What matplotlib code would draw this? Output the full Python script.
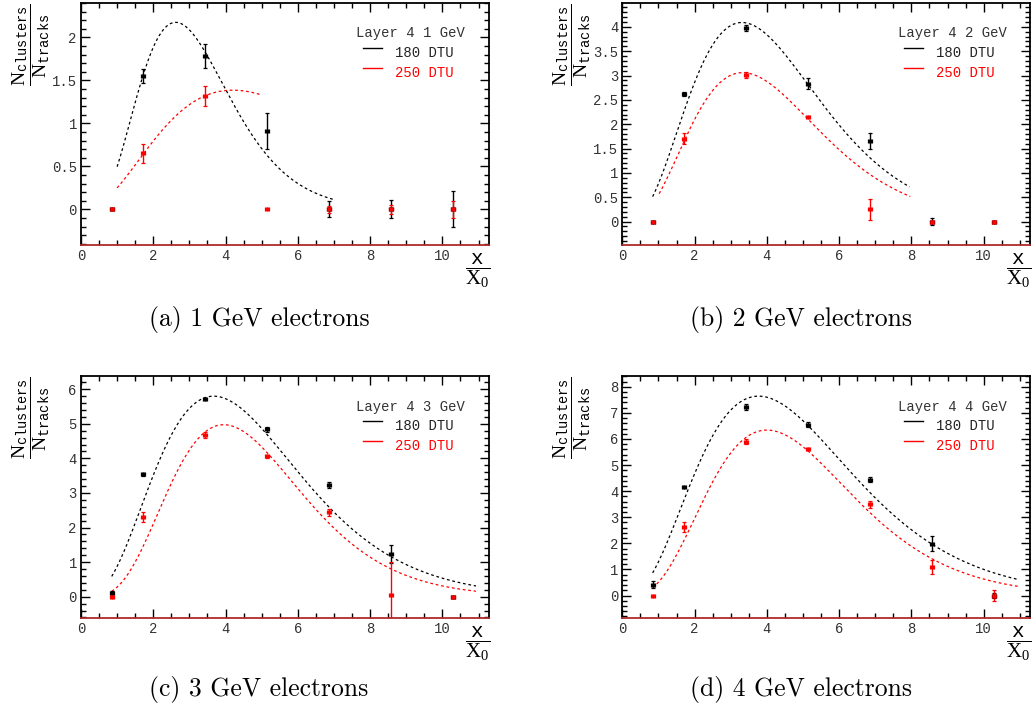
import numpy as np
import matplotlib
matplotlib.use("Agg")
import matplotlib.pyplot as plt
from matplotlib.ticker import MultipleLocator, FuncFormatter

plt.rcParams["mathtext.fontset"] = "custom"
plt.rcParams["mathtext.rm"] = "Liberation Serif"
plt.rcParams["mathtext.it"] = "Liberation Serif:italic"
plt.rcParams["mathtext.tt"] = "Liberation Mono"

MONO = "Liberation Mono"

# Depth of the layer in radiation lengths
depth = [0.857, 1.714, 3.429, 5.143, 6.857, 8.571, 10.286]
depth_err = 0.06

# 1 GeV electrons
n180_1gev = [0.0, 1.55, 1.78, 0.91, 0.0, 0.0, 0.0]
e180_1gev = [0.01, 0.085, 0.14, 0.21, 0.093, 0.105, 0.21]
n250_1gev = [0.0, 0.65, 1.32, 0.0, 0.0, 0.0, 0.0]
e250_1gev = [0.01, 0.11, 0.116, 0.0, 0.04, 0.05, 0.10]

# 2 GeV electrons
n180_2gev = [0.0, 2.62, 3.98, 2.83, 1.66, 0.0, 0.0]
e180_2gev = [0.02, 0.04, 0.06, 0.11, 0.17, 0.07, 0.02]
n250_2gev = [0.0, 1.70, 3.01, 2.14, 0.25, 0.0, 0.0]
e250_2gev = [0.02, 0.11, 0.07, 0.02, 0.22, 0.02, 0.02]

# 3 GeV electrons
n180_3gev = [0.12, 3.54, 5.72, 4.84, 3.23, 1.23, 0.0]
e180_3gev = [0.05, 0.04, 0.03, 0.08, 0.10, 0.26, 0.03]
n250_3gev = [0.0, 2.31, 4.67, 4.06, 2.44, 0.04, 0.0]
e250_3gev = [0.05, 0.15, 0.08, 0.05, 0.10, 0.95, 0.03]

# 4 GeV electrons
n180_4gev = [0.41, 4.16, 7.22, 6.54, 4.44, 1.98, 0.0]
e180_4gev = [0.13, 0.05, 0.10, 0.10, 0.10, 0.29, 0.10]
n250_4gev = [0.0, 2.62, 5.90, 5.62, 3.50, 1.09, 0.0]
e250_4gev = [0.02, 0.19, 0.10, 0.05, 0.13, 0.26, 0.22]

# Longitudinal shower fits: (t_max, peak value, shape k, t_start, t_end)
fit180_1gev = (2.62, 2.175, 4.29, 1.00, 7.00)
fit250_1gev = (4.20, 1.386, 2.55, 1.00, 5.00)
fit180_2gev = (3.31, 4.09, 3.32, 0.84, 7.95)
fit250_2gev = (3.33, 3.06, 3.42, 1.02, 7.97)
fit180_3gev = (3.67, 5.80, 3.30, 0.85, 10.93)
fit250_3gev = (3.95, 4.975, 4.60, 0.85, 10.93)
fit180_4gev = (3.77, 7.64, 3.00, 0.84, 10.95)
fit250_4gev = (4.00, 6.34, 3.95, 0.84, 10.95)

energies = ["1 GeV", "2 GeV", "3 GeV", "4 GeV"]
captions = ["(a) 1 GeV electrons", "(b) 2 GeV electrons",
            "(c) 3 GeV electrons", "(d) 4 GeV electrons"]
thresholds = ["180 DTU", "250 DTU"]

panels = [
    (n180_1gev, e180_1gev, n250_1gev, e250_1gev, fit180_1gev, fit250_1gev),
    (n180_2gev, e180_2gev, n250_2gev, e250_2gev, fit180_2gev, fit250_2gev),
    (n180_3gev, e180_3gev, n250_3gev, e250_3gev, fit180_3gev, fit250_3gev),
    (n180_4gev, e180_4gev, n250_4gev, e250_4gev, fit180_4gev, fit250_4gev),
]
ylims = [(-0.415, 2.40), (-0.48, 4.49), (-0.625, 6.375), (-0.87, 8.40)]
ysteps = [(0.5, 0.1), (0.5, 0.1), (1.0, 0.2), (1.0, 0.2)]


def shower(t, tmax, peak, k):
    r = t / tmax
    return peak * r ** k * np.exp(-k * (r - 1.0))


W, H = 1034, 711
fig = plt.figure(figsize=(W / 100, H / 100), dpi=100)

ax_w = 408 / W
ax_h = 242 / H
lefts = [81 / W, 622.3 / W, 81 / W, 622.3 / W]
tops = [3, 3, 376.3, 376.3]
cap_xy = [(259, 319.5), (801, 319.5), (259, 689.5), (801, 689.5)]

for i, (n180, e180, n250, e250, f180, f250) in enumerate(panels):
    top = tops[i]
    ax = fig.add_axes([lefts[i], 1 - (top + 242) / H, ax_w, ax_h])
    ax.set_xlim(0, 11.29)
    ax.set_ylim(*ylims[i])

    for fit, col in ((f180, "black"), (f250, "red")):
        tmax, peak, k, t0, t1 = fit
        t = np.linspace(t0, t1, 300)
        ax.plot(t, shower(t, tmax, peak, k), color=col, lw=0.9,
                ls=(0, (2.2, 2.2)), zorder=2)

    for y, e, col in ((n180, e180, "black"), (n250, e250, "red")):
        ax.errorbar(depth, y, yerr=e, xerr=depth_err, fmt="o", ms=2.2,
                    color=col, ecolor=col, elinewidth=1.0, capsize=1.2,
                    capthick=0.9, zorder=3, clip_on=True)

    # axis styling
    major, minor = ysteps[i]
    ax.yaxis.set_major_locator(MultipleLocator(major))
    ax.yaxis.set_minor_locator(MultipleLocator(minor))
    ax.xaxis.set_major_locator(MultipleLocator(2))
    ax.xaxis.set_minor_locator(MultipleLocator(0.5))
    fmt = FuncFormatter(lambda v, p: "%g" % (round(v, 6) + 0.0))
    ax.xaxis.set_major_formatter(fmt)
    ax.yaxis.set_major_formatter(fmt)
    ax.tick_params(which="both", direction="in", top=True, right=True,
                   width=1.0, colors="black")
    ax.tick_params(which="major", length=6.5, pad=3, labelsize=10,
                   labelcolor="#333333")
    ax.tick_params(which="minor", length=3.4)
    for lab in ax.get_xticklabels() + ax.get_yticklabels():
        lab.set_family(MONO)
    for s in ax.spines.values():
        s.set_linewidth(1.3)
    ax.spines["bottom"].set_color("#b02a2a")

    # legend block
    ax.text(0.675, 0.875, "Layer 4 " + energies[i], transform=ax.transAxes,
            family=MONO, fontsize=10, color="#333333", va="center", ha="left")
    for j, (lab, col) in enumerate(zip(thresholds, ["#222222", "red"])):
        yl = 0.815 - j * 0.084
        ax.plot([0.69, 0.737], [yl, yl], transform=ax.transAxes,
                color="black" if j == 0 else "red", lw=1.0)
        ax.text(0.77, yl - 0.02, lab, transform=ax.transAxes, family=MONO,
                fontsize=10, color=col, va="center", ha="left")

    # axis titles
    ax_left_px = lefts[i] * W
    fig.text((ax_left_px - 50) / W, 1 - (top + 0.5) / H,
             r"$\dfrac{\mathrm{N}_{\mathtt{clusters}}}{\mathrm{N}_{\mathtt{tracks}}}$",
             rotation=90, ha="center", va="top", fontsize=14)
    fig.text((ax_left_px + 409) / W, 1 - (top + 248) / H,
             r"$\dfrac{\mathtt{x}}{\mathrm{X}_{0}}$",
             ha="right", va="top", fontsize=15)

    cx, cy = cap_xy[i]
    fig.text(cx / W, 1 - cy / H, captions[i], family="cmr10", fontsize=18.5,
             ha="center", va="center")

fig.savefig("out.png", dpi=100)
